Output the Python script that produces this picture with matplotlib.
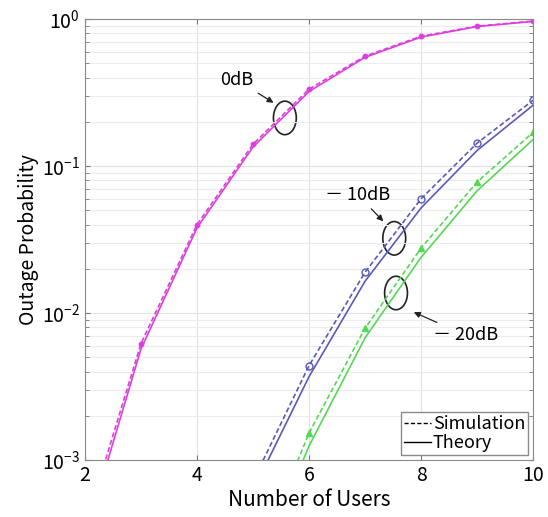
import numpy as np
import matplotlib.pyplot as plt
from matplotlib.patches import Ellipse
from matplotlib.lines import Line2D

plt.rcParams['font.family'] = ['Noto Sans CJK JP', 'DejaVu Sans']
plt.rcParams['mathtext.fontset'] = 'dejavusans'

# data
users = [2, 3, 4, 5, 6, 7, 8, 9, 10]

sim_0dB = [3.5e-4, 0.0062, 0.040, 0.141, 0.334, 0.56, 0.765, 0.896, 0.97]
theo_0dB = [3.0e-4, 0.0057, 0.038, 0.135, 0.322, 0.55, 0.755, 0.89, 0.965]

sim_10dB = [None, None, None, 7.2e-4, 0.0044, 0.019, 0.060, 0.1435, 0.281]
theo_10dB = [None, None, None, 6.2e-4, 0.0037, 0.0165, 0.052, 0.128, 0.26]

sim_20dB = [None, None, None, 1.8e-4, 0.00153, 0.0079, 0.0277, 0.078, 0.17]
theo_20dB = [None, None, None, 1.5e-4, 0.00125, 0.0068, 0.024, 0.068, 0.152]

col_0 = "#dd3fdd"
col_10 = "#5a5ab8"
col_20 = "#55d855"

fig = plt.figure(figsize=(5.48, 5.17), dpi=100)
ax = fig.add_axes([0.155, 0.110, 0.818, 0.853])


def pick(vals):
    x = [u for u, v in zip(users, vals) if v is not None]
    y = [v for v in vals if v is not None]
    return x, y


dash = (3, 1.6)

x, y = pick(sim_0dB)
ax.plot(x, y, "--", color=col_0, lw=1.2, dashes=dash)
ax.plot(x[1:], y[1:], "o", color=col_0, ms=3.2)
x, y = pick(theo_0dB)
ax.plot(x, y, "-", color=col_0, lw=1.2)

x, y = pick(sim_10dB)
ax.plot(x, y, "--", color=col_10, lw=1.2, dashes=dash)
ax.plot(x[1:], y[1:], "o", color=col_10, ms=5, mfc="none", mew=1)
x, y = pick(theo_10dB)
ax.plot(x, y, "-", color=col_10, lw=1.2)

x, y = pick(sim_20dB)
ax.plot(x, y, "--", color=col_20, lw=1.2, dashes=dash)
ax.plot(x[1:], y[1:], "^", color=col_20, ms=5)
x, y = pick(theo_20dB)
ax.plot(x, y, "-", color=col_20, lw=1.2)

ax.set_yscale("log")
ax.set_xlim(2, 10)
ax.set_ylim(1e-3, 1)
ax.set_xticks([2, 4, 6, 8, 10])
ax.set_yticks([1e-3, 1e-2, 1e-1, 1])
ax.grid(True, which="major", color="#e2e2e2", lw=0.8)
ax.grid(True, which="minor", axis="y", color="#ececec", lw=0.8)
ax.tick_params(which="both", direction="in", top=True, right=True, labelsize=14,
               color="#777777")
ax.tick_params(which="minor", length=3)
for s in ax.spines.values():
    s.set_color("#8a8a8a")

ax.set_xlabel("Number of Users", fontsize=15, labelpad=2)
ax.set_ylabel("Outage Probability", fontsize=14, labelpad=2)

# circles and labels
for cx, cy in [(0.446, 0.776), (0.690, 0.503), (0.694, 0.379)]:
    ax.add_patch(Ellipse((cx, cy), 0.051, 0.076, transform=ax.transAxes,
                         fill=False, ec="#222222", lw=1.2))

arrow = dict(arrowstyle="-|>", color="#222222", lw=0.9, mutation_scale=9)
ax.annotate("0dB", xy=(0.426, 0.807), xytext=(0.339, 0.862), xycoords="axes fraction",
            textcoords="axes fraction", ha="center", va="center", fontsize=13,
            arrowprops=arrow)
ax.annotate("－ 10dB", xy=(0.670, 0.537), xytext=(0.609, 0.601), xycoords="axes fraction",
            textcoords="axes fraction", ha="center", va="center", fontsize=13,
            arrowprops=arrow)
ax.annotate("－ 20dB", xy=(0.728, 0.338), xytext=(0.850, 0.283), xycoords="axes fraction",
            textcoords="axes fraction", ha="center", va="center", fontsize=13,
            arrowprops=arrow)

handles = [Line2D([], [], color="black", ls="--", lw=1, dashes=dash),
           Line2D([], [], color="black", ls="-", lw=1)]
leg = ax.legend(handles, ["Simulation", "Theory"], loc="lower right", fontsize=13,
                handlelength=1.5, handletextpad=0.1, borderpad=0.15, labelspacing=0.05,
                fancybox=False, framealpha=1, borderaxespad=0.3)
leg.get_frame().set_edgecolor("#8a8a8a")

fig.savefig("out.png", dpi=100)
